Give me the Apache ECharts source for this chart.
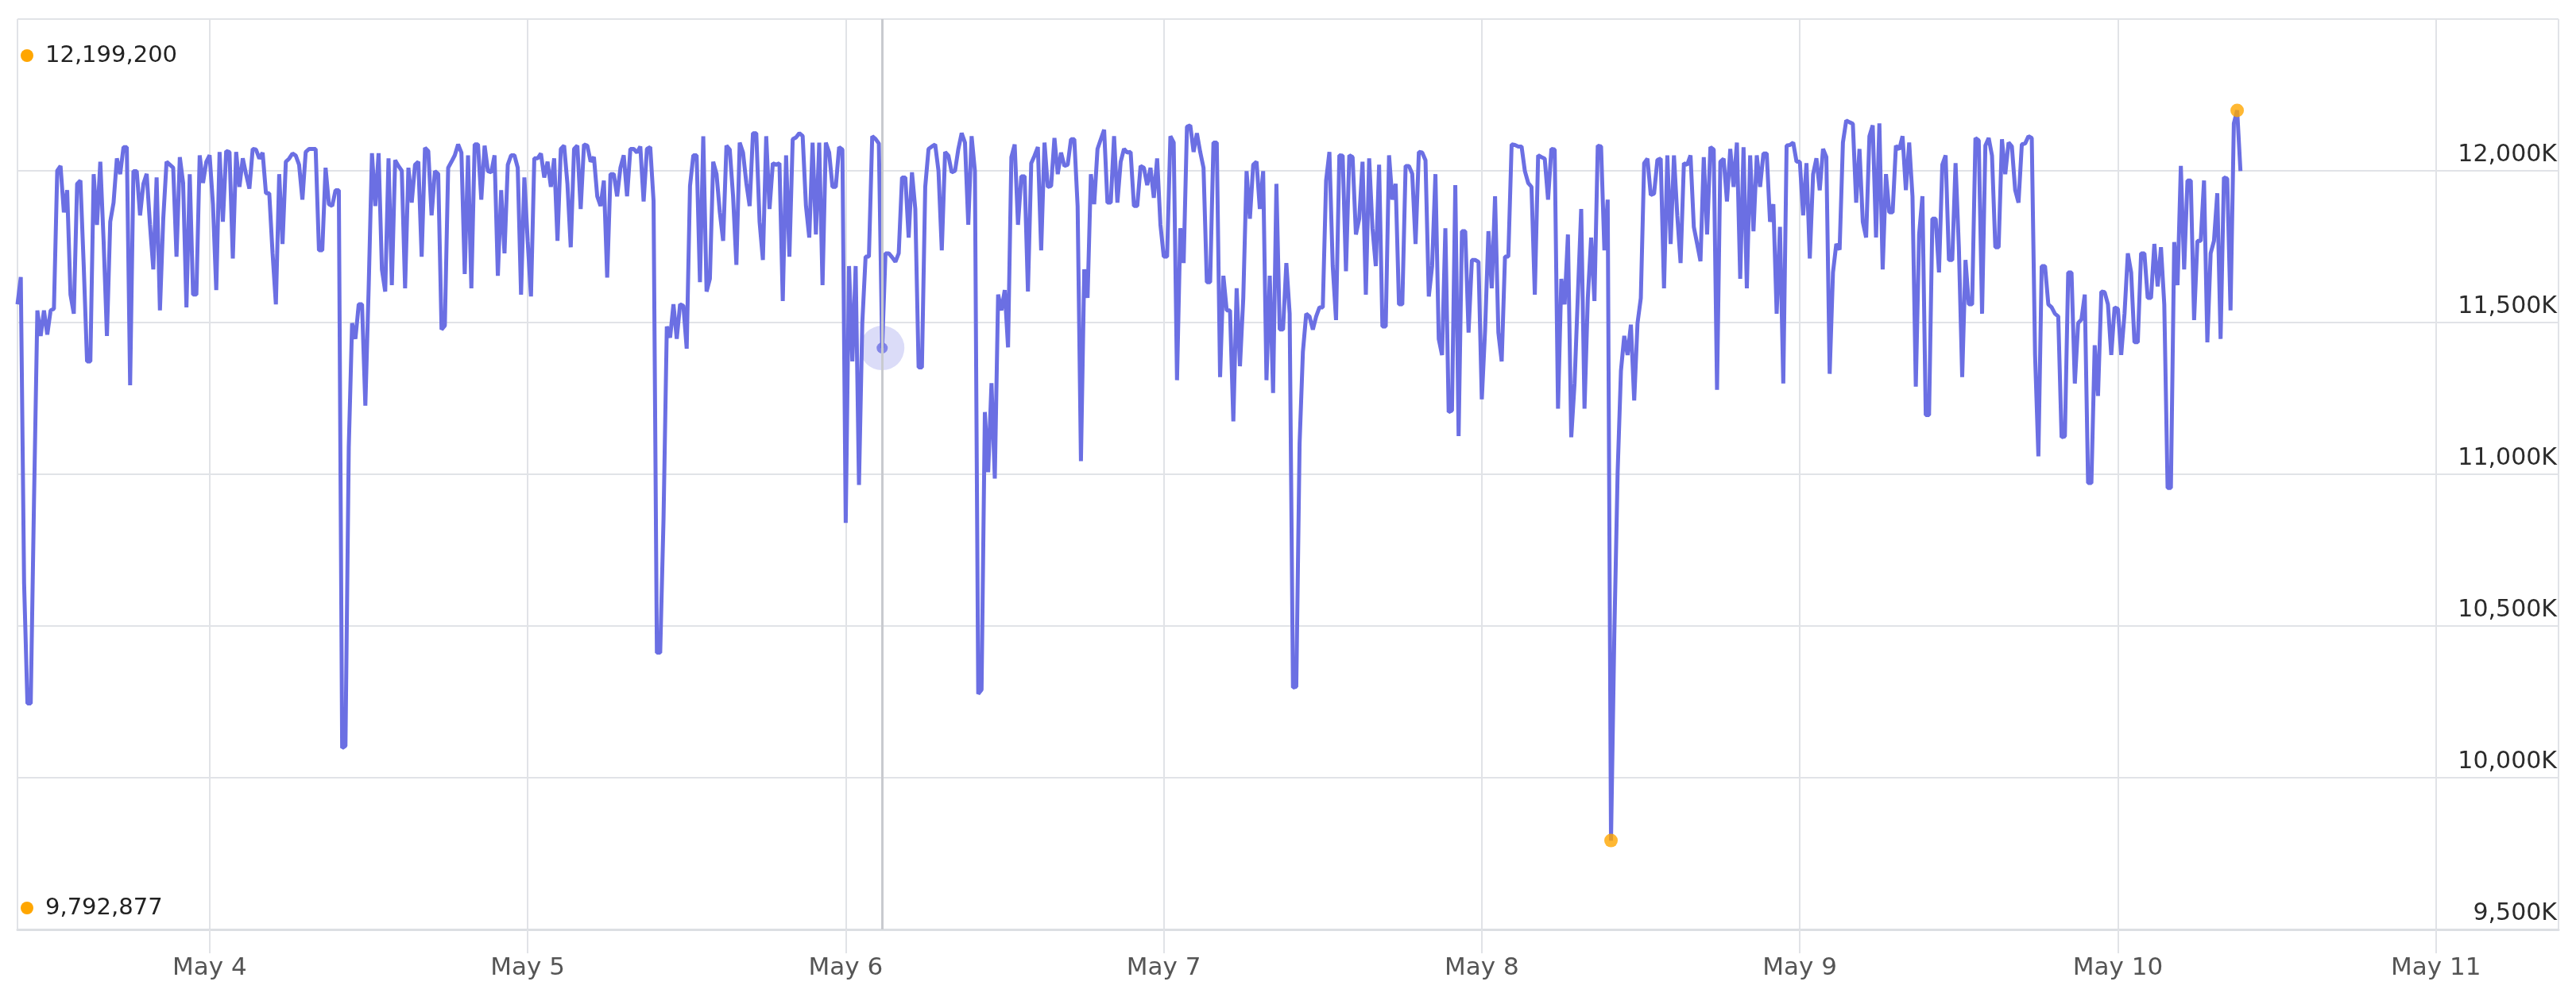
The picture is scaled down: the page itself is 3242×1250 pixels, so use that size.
<!DOCTYPE html>
<html lang="en">
<head>
    <meta charset="UTF-8">
    <title>Index</title>
    <script src="https://cdn.jsdelivr.net/npm/echarts@6/dist/echarts.min.js"></script>
    <style>
        html, body { margin: 0; padding: 0; background: #fff; }
    </style>
</head>
<body>
    <div id="main" style="width:3242px;height:1250px;"></div>
<script type="text/javascript">
    // start of the series, one point every 15 minutes
    var startTime = new Date(2024, 4, 3, 9, 30).getTime();
    var stepMs = 15 * 60 * 1000;
    var hoverIndex = 261;
    var monthNames = ['Jan', 'Feb', 'Mar', 'Apr', 'May', 'Jun', 'Jul', 'Aug', 'Sep', 'Oct', 'Nov', 'Dec'];
    var yTicks = [9500000, 10000000, 10500000, 11000000, 11500000, 12000000, 12500000];

    // values in thousands
    var valuesMay3 = [
        11560, 11650, 10640, 10245, 10245, 10920, 11540, 11456, 11540, 11460,
        11540, 11545, 12000, 12016, 11863, 11936, 11592, 11529, 11957, 11968,
        11686, 11372, 11372, 11989, 11822, 12030, 11769, 11456, 11832, 11895,
        12041, 11989, 12078, 12078, 11293, 11999, 11999, 11853, 11957, 11990,
        11822, 11675, 11978, 11540, 11842, 12030, 12020, 12010, 11717, 12045,
        11960, 11550, 11989, 11592, 11592, 12051, 11960, 12030, 12051, 11890,
        11607, 12062, 11832, 12065, 12062, 11711, 12062, 11947, 12041, 11989,
        11941, 12072, 12070, 12040, 12060, 11926, 11926, 11728, 11560, 11989,
        11759, 12030, 12040, 12057, 12050, 12020, 11905, 12062, 12072, 12072,
        12072, 11738, 11738, 12010, 11890
    ];
    var valuesMay4 = [
        11884, 11936, 11936, 10098, 10105, 11090, 11498, 11446, 11560, 11560,
        11226, 11613, 12058, 11884, 12058, 11675, 11602, 12041, 11623, 12035,
        12016, 12000, 11613, 12010, 11895, 12020, 12030, 11717, 12076, 12065,
        11853, 11999, 11990, 11477, 11490, 12010, 12030, 12051, 12087, 12060,
        11660, 12051, 11613, 12087, 12087, 11905, 12083, 11999, 11995, 12051,
        11654, 11936, 11728, 12020, 12051, 12051, 12010, 11592, 11978, 11769,
        11586, 12041, 12041, 12057, 11978, 12030, 11947, 12041, 11769, 12072,
        12083, 11957, 11748, 12072, 12083, 11874, 12087, 12083, 12030, 12045,
        11916, 11884, 11968, 11648, 11989, 11989, 11916, 12010, 12051, 11916,
        12072, 12072, 12060, 12080, 11899, 12072
    ];
    var valuesMay5 = [
        12078, 11900, 10412, 10412, 10850, 11487, 11450, 11560, 11446, 11560,
        11555, 11414, 11950, 12051, 12051, 11633, 12114, 11602, 11644, 12030,
        11990, 11863, 11769, 12083, 12070, 11916, 11690, 12093, 12060, 11960,
        11884, 12124, 12124, 11832, 11706, 12114, 11874, 12025, 12020, 12025,
        11571, 12051, 11717, 12104, 12110, 12124, 12115, 11884, 11780, 12093,
        11790, 12093, 11623, 12093, 12060, 11947, 11947, 12078, 12070, 10840,
        11686, 11372, 11686, 10965, 11498, 11717, 11717, 12114, 12105, 12090,
        11416, 11728, 11728, 11715, 11700, 11728, 11978, 11978, 11780, 11995,
        11874, 11352, 11352, 11947, 12072, 12080, 12087, 12000, 11738, 12062,
        12050, 11995, 12000, 12072, 12124, 12093
    ];
    var valuesMay6 = [
        11822, 12114, 11999, 10276, 10290, 11205, 11007, 11300, 10986, 11592,
        11540, 11607, 11418, 12045, 12087, 11822, 11982, 11982, 11602, 12025,
        12050, 12078, 11738, 12093, 11947, 11950, 12108, 11989, 12060, 12016,
        12020, 12104, 12104, 11884, 11043, 11675, 11581, 11989, 11890, 12072,
        12104, 12135, 11895, 11895, 12114, 11895, 12030, 12072, 12060, 12062,
        11884, 11884, 12016, 12010, 11953, 12010, 11911, 12041, 11822, 11717,
        11717, 12114, 12093, 11310, 11811, 11696, 12145, 12150, 12062, 12124,
        12062, 12010, 11633, 11633, 12093, 12093, 11320, 11654, 11540, 11540,
        11174, 11613, 11356, 11581, 11999, 11842, 12020, 12030, 11874, 11999,
        11310, 11654, 11268, 11957, 11477, 11477
    ];
    var valuesMay7 = [
        11696, 11529, 10297, 10300, 11101, 11404, 11529, 11520, 11477, 11520,
        11550, 11550, 11968, 12062, 11686, 11508, 12051, 12050, 11669, 12051,
        12045, 11790, 11842, 12030, 11592, 12041, 11811, 11686, 12020, 11487,
        11487, 12051, 11905, 11957, 11560, 11560, 12016, 12016, 11990, 11759,
        12062, 12060, 12035, 11586, 11686, 11989, 11446, 11393, 11811, 11205,
        11210, 11953, 11126, 11801, 11801, 11467, 11706, 11706, 11700, 11247,
        11477, 11801, 11613, 11916, 11467, 11372, 11717, 11717, 12087, 12085,
        12080, 12080, 11999, 11960, 11947, 11592, 12051, 12045, 12040, 11905,
        12072, 12070, 11216, 11644, 11560, 11790, 11122, 11300, 11592, 11874,
        11216, 11581, 11780, 11571, 12083, 12080
    ];
    var valuesMay8 = [
        11738, 11905, 9792.877, 10474, 11007, 11341, 11456, 11393, 11493, 11243,
        11498, 11581, 12025, 12040, 11920, 11925, 12036, 12040, 11613, 12051,
        11759, 12051, 11853, 11696, 12025, 12020, 12051, 11815, 11759, 11702,
        12045, 11790, 12078, 12070, 11278, 12030, 12040, 11899, 12072, 11947,
        12093, 11644, 12078, 11613, 12051, 11801, 12051, 11947, 12057, 12057,
        11832, 11890, 11529, 11815, 11299, 12083, 12085, 12093, 12030, 12030,
        11853, 12025, 11711, 11989, 12041, 11936, 12072, 12045, 11331, 11665,
        11759, 11740, 12093, 12166, 12160, 12155, 11895, 12072, 11832, 11780,
        12114, 12150, 11780, 12156, 11675, 11989, 11863, 11863, 12083, 12070,
        12114, 11936, 12093, 11916, 11289, 11790
    ];
    var valuesMay9 = [
        11916, 11195, 11195, 11842, 11842, 11665, 12020, 12051, 11706, 11706,
        12025, 11748, 11320, 11706, 11560, 11560, 12108, 12100, 11529, 12083,
        12108, 12050, 11748, 11748, 12104, 11989, 12093, 12080, 11936, 11895,
        12087, 12090, 12114, 12108, 11393, 11059, 11686, 11686, 11560, 11550,
        11529, 11520, 11122, 11125, 11665, 11665, 11299, 11498, 11510, 11592,
        10971, 10971, 11425, 11258, 11602, 11600, 11560, 11393, 11550, 11545,
        11393, 11529, 11728, 11665, 11435, 11435, 11728, 11728, 11581, 11581,
        11759, 11619, 11748, 11560, 10955, 10955, 11765, 11623, 12016, 11675,
        11968, 11968, 11508, 11769, 11769, 11968, 11435, 11728, 11769, 11926,
        11446, 11978, 11974, 11540, 12156, 12199.2, 11999
    ];

    var allValues = valuesMay3.concat(valuesMay4, valuesMay5, valuesMay6, valuesMay7, valuesMay8, valuesMay9);
    var seriesData = allValues.map(function (v, i) {
        return [startTime + i * stepMs, Math.round(v * 1000)];
    });

    var maxIdx = 0, minIdx = 0;
    seriesData.forEach(function (p, i) {
        if (p[1] > seriesData[maxIdx][1]) maxIdx = i;
        if (p[1] < seriesData[minIdx][1]) minIdx = i;
    });
    var maxPoint = seriesData[maxIdx];
    var minPoint = seriesData[minIdx];
    var hoverPoint = seriesData[hoverIndex];
    var endTime = seriesData[seriesData.length - 1][0] + 24 * 3600 * 1000;

    var lineColor = '#6b6fe3';
    var orange = '#ffa600';
    var gridColor = '#e1e3e7';
    var fontName = '"DejaVu Sans"';

    var myChart = echarts.init(document.getElementById('main'));
    var option = {
        animation: false,
        grid: { left: 22, right: 22, top: 24, bottom: 80 },
        xAxis: {
            type: 'time',
            min: startTime,
            max: endTime,
            minInterval: 24 * 3600 * 1000,
            maxInterval: 24 * 3600 * 1000,
            axisLine: { show: true, lineStyle: { color: '#dcdfe3', width: 3 } },
            axisTick: { show: true, length: 30, lineStyle: { color: gridColor, width: 2 } },
            splitLine: { show: true, lineStyle: { color: gridColor, width: 2 } },
            axisLabel: {
                margin: 33,
                color: '#555',
                fontFamily: fontName,
                fontSize: 31,
                formatter: function (val) {
                    var d = new Date(val);
                    return monthNames[d.getMonth()] + ' ' + d.getDate();
                }
            }
        },
        yAxis: {
            type: 'value',
            position: 'right',
            min: yTicks[0],
            max: yTicks[yTicks.length - 1],
            interval: 500000,
            axisLine: { show: false },
            axisTick: { show: false },
            splitLine: { show: true, lineStyle: { color: gridColor, width: 2 } },
            axisLabel: {
                inside: true,
                margin: 2,
                verticalAlign: 'bottom',
                padding: [0, 0, 5, 0],
                color: '#2b2b2b',
                fontFamily: fontName,
                fontSize: 30,
                formatter: function (v) {
                    if (v === yTicks[yTicks.length - 1]) return '';
                    return (v / 1000).toLocaleString('en-US') + 'K';
                }
            }
        },
        series: [
            {
                // hover halo under the line
                type: 'scatter',
                z: 1,
                symbolSize: 56,
                itemStyle: { color: 'rgba(107,111,227,0.3)' },
                data: [hoverPoint]
            },
            {
                type: 'line',
                z: 2,
                showSymbol: false,
                data: seriesData,
                lineStyle: { color: lineColor, width: 5 },
                itemStyle: { color: lineColor },
                markLine: {
                    silent: true,
                    symbol: ['none', 'none'],
                    label: { show: false },
                    lineStyle: { color: '#c8cacf', width: 3, type: 'solid' },
                    data: [{ xAxis: hoverPoint[0] }]
                }
            },
            {
                type: 'scatter',
                z: 3,
                symbolSize: 14,
                itemStyle: { color: lineColor },
                data: [hoverPoint]
            },
            {
                type: 'scatter',
                z: 4,
                symbolSize: 17,
                itemStyle: { color: orange },
                data: [maxPoint, minPoint]
            }
        ],
        graphic: [
            { type: 'circle', shape: { cx: 34, cy: 70, r: 8 }, style: { fill: orange } },
            {
                type: 'text', x: 57, y: 70,
                style: {
                    text: maxPoint[1].toLocaleString('en-US'),
                    fill: '#222', font: '29px ' + fontName, verticalAlign: 'middle'
                }
            },
            { type: 'circle', shape: { cx: 34, cy: 1143, r: 8 }, style: { fill: orange } },
            {
                type: 'text', x: 57, y: 1143,
                style: {
                    text: minPoint[1].toLocaleString('en-US'),
                    fill: '#222', font: '29px ' + fontName, verticalAlign: 'middle'
                }
            }
        ]
    };
    myChart.setOption(option);
</script>
</body>
</html>
